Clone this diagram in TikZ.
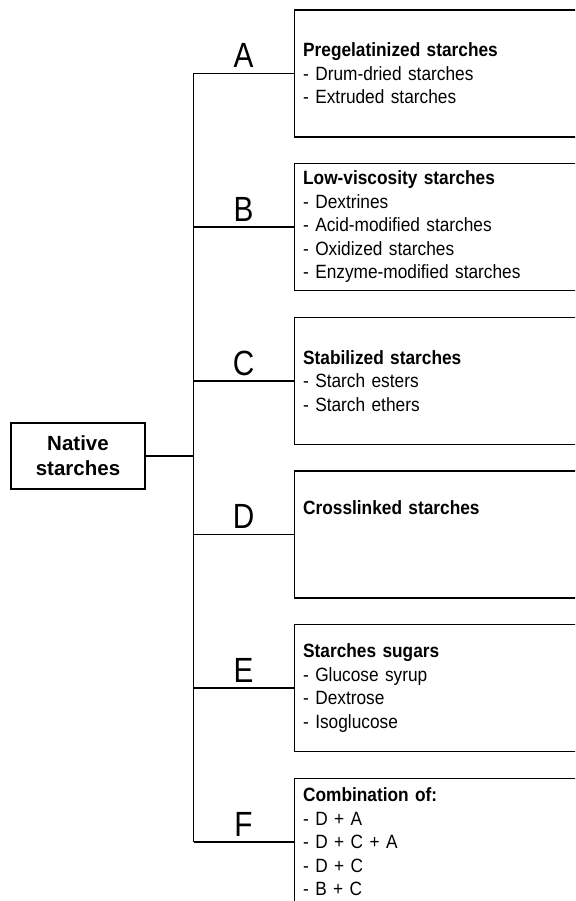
\documentclass[tikz,border=0pt]{standalone}
\usepackage{fontspec}
\setmainfont{Liberation Sans}
\newfontfamily\narrowfont[FakeStretch=0.9]{Liberation Sans}
\newfontfamily\letterfont[FakeStretch=0.85]{Liberation Sans}
\usetikzlibrary{positioning}

\tikzset{
  group/.style={draw, line width=1.3pt, anchor=west, text width=282pt, inner xsep=9pt,
    minimum height=127pt, align=left, font=\narrowfont\fontsize{19.2}{23.5}\selectfont},
  native/.style={draw, line width=1.3pt, minimum width=134pt, minimum height=66pt,
    align=center, font=\bfseries\fontsize{20.5}{25}\selectfont},
  branch/.style={line width=1.3pt},
  letter/.style={font=\letterfont\fontsize{35}{35}\selectfont, inner sep=2pt, above=3pt}
}

\begin{document}
\begin{tikzpicture}[x=1pt, y=-1pt]
  \clip (0,0) rectangle (575,901);
  \node[native] (native) at (78,456) {Native\\starches};
  \coordinate (trunk) at (193.5,456);
  % groups of modified starches
  \node[group] (boxA) at (293.5,73.5) {\textbf{Pregelatinized starches}\\- Drum-dried starches\\- Extruded starches};
  \node[group] (boxB) at (293.5,227) {\textbf{Low-viscosity starches}\\- Dextrines\\- Acid-modified starches\\- Oxidized starches\\- Enzyme-modified starches};
  \node[group] (boxC) at (293.5,381) {\textbf{Stabilized starches}\\- Starch esters\\- Starch ethers};
  \node[group] (boxD) at (293.5,534.5) {\textbf{Crosslinked starches}\\ \strut\\ \strut};
  \node[group] (boxE) at (293.5,688) {\textbf{Starches sugars}\\- Glucose syrup\\- Dextrose\\- Isoglucose};
  \node[group] (boxF) at (293.5,842) {\textbf{Combination of:}\\- D + A\\- D + C + A\\- D + C\\- B + C};
  % tree
  \draw[branch] (native.east) -- (trunk);
  \draw[branch] (boxA.west -| trunk) -- (boxF.west -| trunk);
  \draw[branch] (boxA.west) -- node[letter] (labA) {A} (boxA.west -| trunk);
  \draw[branch] (boxB.west) -- node[letter] (labB) {B} (boxB.west -| trunk);
  \draw[branch] (boxC.west) -- node[letter] (labC) {C} (boxC.west -| trunk);
  \draw[branch] (boxD.west) -- node[letter] (labD) {D} (boxD.west -| trunk);
  \draw[branch] (boxE.west) -- node[letter] (labE) {E} (boxE.west -| trunk);
  \draw[branch] (boxF.west) -- node[letter] (labF) {F} (boxF.west -| trunk);
\end{tikzpicture}
\end{document}
